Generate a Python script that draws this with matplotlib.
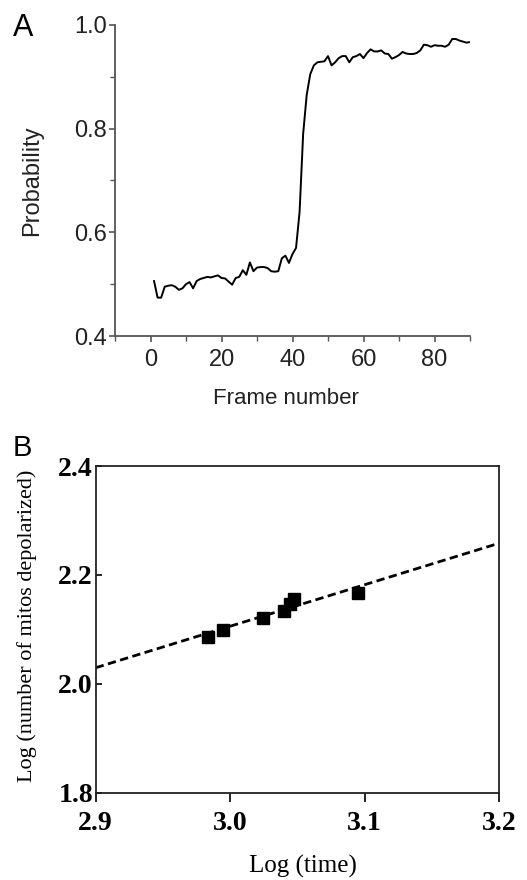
import numpy as np
import matplotlib
matplotlib.use("Agg")
import matplotlib.pyplot as plt
from matplotlib.ticker import MultipleLocator

# ---------------- Panel A data ----------------
frames = list(range(1, 91))
probability = [
    0.506, 0.474, 0.474, 0.495, 0.497, 0.498, 0.495, 0.489, 0.492, 0.500,
    0.504, 0.492, 0.506, 0.510, 0.512, 0.514, 0.513, 0.515, 0.517, 0.512,
    0.511, 0.505, 0.499, 0.512, 0.514, 0.527, 0.518, 0.542, 0.525, 0.532,
    0.533, 0.533, 0.531, 0.525, 0.524, 0.525, 0.550, 0.555, 0.541, 0.558,
    0.570, 0.640, 0.790, 0.865, 0.905, 0.922, 0.928, 0.929, 0.930, 0.940,
    0.922, 0.928, 0.936, 0.940, 0.940, 0.928, 0.938, 0.940, 0.944, 0.936,
    0.946, 0.953, 0.949, 0.949, 0.951, 0.945, 0.944, 0.935, 0.938, 0.942,
    0.948, 0.945, 0.944, 0.944, 0.946, 0.951, 0.962, 0.961, 0.958, 0.961,
    0.960, 0.960, 0.958, 0.962, 0.973, 0.973, 0.970, 0.968, 0.966, 0.967,
]
a_xticks = [0, 20, 40, 60, 80]
a_yticks = [0.4, 0.6, 0.8, 1.0]
a_xticklabels = ["0", "20", "40", "60", "80"]
a_yticklabels = ["0.4", "0.6", "0.8", "1.0"]

# ---------------- Panel B data ----------------
log_time = [2.9838, 2.9945, 3.0247, 3.0401, 3.0445, 3.0477, 3.0953]
log_mitos = [2.0864, 2.0988, 2.1213, 2.1342, 2.1460, 2.1557, 2.1662]
fit_slope = 0.762
fit_intercept = -0.1803
b_xticks = [2.9, 3.0, 3.1, 3.2]
b_yticks = [1.8, 2.0, 2.2, 2.4]
b_xticklabels = ["2.9", "3.0", "3.1", "3.2"]
b_yticklabels = ["1.8", "2.0", "2.2", "2.4"]

W, H = 527, 880
fig = plt.figure(figsize=(W / 100, H / 100), dpi=100)

def px_axes(l, t, r, b):
    return [l / W, 1 - b / H, (r - l) / W, (b - t) / H]

# ---------------- Panel A ----------------
sans = "Liberation Sans"
axA = fig.add_axes(px_axes(115, 25, 470, 336))
axA.plot(frames, probability, color="black", lw=1.4)
axA.set_xlim(-10, 90)
axA.set_ylim(0.4, 1.0)
for s in ["top", "right"]:
    axA.spines[s].set_visible(False)
for s in ["left", "bottom"]:
    axA.spines[s].set_color("#555555")
    axA.spines[s].set_linewidth(1.3)
axA.set_xticks(a_xticks)
axA.set_xticklabels(a_xticklabels, family=sans, fontsize=17, color="#222222")
axA.set_yticks(a_yticks)
axA.set_yticklabels(a_yticklabels, family=sans, fontsize=17, color="#222222")
axA.xaxis.set_minor_locator(MultipleLocator(10))
axA.yaxis.set_minor_locator(MultipleLocator(0.1))
axA.tick_params(which="major", direction="out", length=4.5, width=1.2, color="#555555")
axA.tick_params(which="minor", direction="out", length=3.5, width=1.0, color="#555555")
axA.tick_params(axis="x", which="major", pad=5)
axA.tick_params(axis="y", which="major", pad=1.5)
axA.set_ylabel("Probability", family=sans, fontsize=17, color="#222222")
axA.yaxis.set_label_coords((32 - 115) / 355, 0.5)
axA.yaxis.label.set_verticalalignment("center")
axA.set_xlabel("Frame number", family=sans, fontsize=16, color="#222222")
axA.xaxis.set_label_coords((286 - 115) / 355, (336 - 398) / 311)
axA.xaxis.label.set_verticalalignment("center")
fig.text(13 / W, 1 - 36 / H, "A", family=sans, fontsize=22, ha="left", va="baseline")

# ---------------- Panel B ----------------
serif = "Liberation Serif"
axB = fig.add_axes(px_axes(95.7, 466, 499, 792.7))
xx = np.array([2.9, 3.2])
axB.plot(xx, fit_slope * xx + fit_intercept, color="black", lw=2.0,
         linestyle=(0, (3.0, 1.6)), zorder=2)
axB.plot(log_time, log_mitos, linestyle="none", marker="s", ms=8,
         color="black", zorder=3)
axB.set_xlim(2.9, 3.2)
axB.set_ylim(1.8, 2.4)
for s in axB.spines.values():
    s.set_color("#222222")
    s.set_linewidth(1.3)
axB.set_xticks(b_xticks)
axB.set_xticklabels(b_xticklabels, family=serif, fontsize=20, fontweight="bold")
axB.set_yticks(b_yticks)
axB.set_yticklabels(b_yticklabels, family=serif, fontsize=20, fontweight="bold")
axB.tick_params(axis="x", direction="out", length=6.5, width=1.2, pad=7)
axB.tick_params(axis="y", direction="in", length=4, width=1.2, pad=2)
for lab in axB.get_yticklabels():
    lab.set_verticalalignment("center_baseline")
axB.set_ylabel("Log (number of mitos depolarized)", family=serif, fontsize=16)
axB.yaxis.set_label_coords((26.7 - 95.7) / 403.3, 0.51)
axB.yaxis.label.set_verticalalignment("center")
axB.set_xlabel("Log (time)", family=serif, fontsize=18)
axB.xaxis.set_label_coords((302.5 - 95.7) / 403.3, (792.7 - 866.7) / 326.7)
axB.xaxis.label.set_verticalalignment("center")
fig.text(12.7 / W, 1 - 456 / H, "B", family=sans, fontsize=21, ha="left", va="baseline")

fig.savefig("out.png", dpi=100)
